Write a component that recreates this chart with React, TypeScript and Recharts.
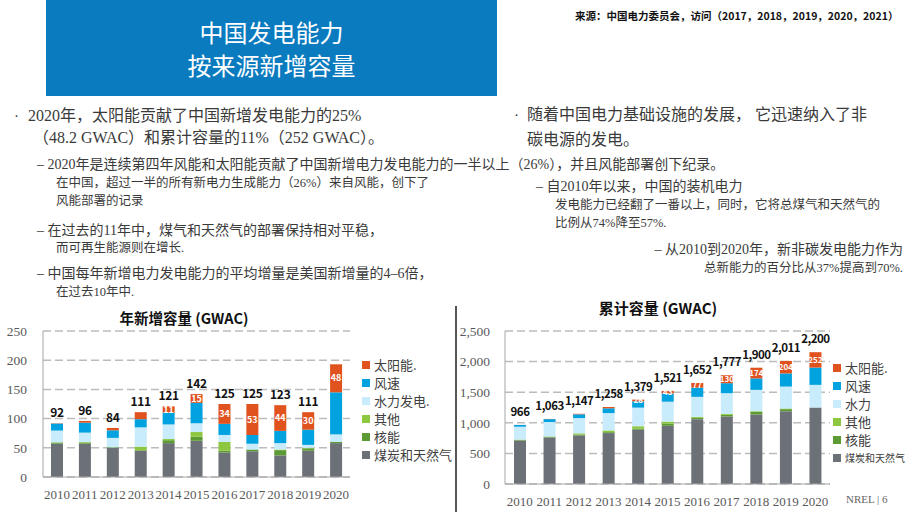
import React from 'react';
import { BarChart, Bar, XAxis, YAxis, CartesianGrid, Legend, LabelList } from 'recharts';

const years = ['2010', '2011', '2012', '2013', '2014', '2015', '2016', '2017', '2018', '2019', '2020'];

// Annual additions (GWAC)
const annualCoal = [57, 57, 50, 45, 58, 62, 42, 44, 37, 45, 58];
const annualNuclear = [2, 2, 1, 1, 5, 7, 3, 3, 9, 4, 2];
const annualOther = [0.5, 1, 0, 6, 2, 8, 15, 0, 1, 1, 0];
const annualHydro = [20, 16, 16, 33, 25, 15, 12, 10, 11, 5, 13];
const annualWind = [12, 17, 13, 14, 20, 35, 19, 15, 21, 26, 72];
const annualSolar = [0.5, 3, 4, 12, 11, 15, 34, 53, 44, 30, 48];
const annualTotals = ['92', '96', '84', '111', '121', '142', '125', '125', '123', '111', ''];
const annualSolarLabels = ['', '', '', '', '11', '15', '34', '53', '44', '30', '48'];

// Cumulative capacity (GWAC)
const cumCoal = [710, 760, 795, 832, 886, 951, 1060, 1103, 1136, 1190, 1250];
const cumNuclear = [11, 12, 13, 15, 20, 36, 22, 27, 43, 33, 0];
const cumOther = [5, 5, 20, 28, 38, 33, 16, 17, 11, 11, 0];
const cumHydro = [210, 236, 249, 284, 304, 325, 326, 337, 348, 358, 370];
const cumWind = [29, 47, 62, 78, 103, 133, 151, 163, 188, 215, 282];
const cumSolar = [1, 3, 8, 21, 28, 43, 77, 130, 174, 204, 252];
const cumTotals = ['966', '1,063', '1,147', '1,258', '1,379', '1,521', '1,652', '1,777', '1,900', '2,011', '2,200'];
const cumSolarLabels = ['', '', '', '', '28', '43', '77', '130', '174', '204', '252'];

const annualTicks = [0, 50, 100, 150, 200, 250];
const cumTicks = [0, 500, 1000, 1500, 2000, 2500];

const annualNames = ['煤炭和天然气', '核能', '其他', '水力发电.', '风速', '太阳能.'];
const cumNames = ['煤炭和天然气', '核能', '其他', '水力', '风速', '太阳能.'];

const COLORS = {
  coal: '#6c7178',
  nuclear: '#5c9a33',
  other: '#8dc63f',
  hydro: '#c8ecfb',
  wind: '#00a2e0',
  solar: '#e0531f',
};

const keys = ['coal', 'nuclear', 'other', 'hydro', 'wind', 'solar'] as const;

const annualData = years.map((y, i) => ({
  year: y,
  coal: annualCoal[i],
  nuclear: annualNuclear[i],
  other: annualOther[i],
  hydro: annualHydro[i],
  wind: annualWind[i],
  solar: annualSolar[i],
  total: annualTotals[i],
  solarLabel: annualSolarLabels[i],
}));

const cumData = years.map((y, i) => ({
  year: y,
  coal: cumCoal[i],
  nuclear: cumNuclear[i],
  other: cumOther[i],
  hydro: cumHydro[i],
  wind: cumWind[i],
  solar: cumSolar[i],
  total: cumTotals[i],
  solarLabel: cumSolarLabels[i],
}));

const SERIF = '"Liberation Serif", "Noto Sans CJK SC", serif';
const SANS = '"Noto Sans CJK SC", "Noto Sans", sans-serif';
const TEXT = '#3a3a3a';

const makeLegend = (names: string[], smallLast: boolean) => () => {
  const items = keys.map((k, i) => ({ value: names[i], color: COLORS[k] })).reverse();
  return (
    <div style={{ fontFamily: SANS, color: '#404040' }}>
      {items.map((it, idx) => (
        <div key={idx} style={{ display: 'flex', alignItems: 'center', height: 18 }}>
          <span style={{ display: 'inline-block', width: 8, height: 8, background: it.color, marginRight: 4, flex: 'none' }} />
          <span style={{ fontSize: smallLast && idx === items.length - 1 ? 10 : 13, whiteSpace: 'nowrap', lineHeight: '18px' }}>
            {it.value}
          </span>
        </div>
      ))}
    </div>
  );
};

const T = ({ x, y, size, children, right, bold, color, family }: any) => (
  <div
    style={{
      position: 'absolute',
      left: right === undefined ? x : undefined,
      right: right,
      top: y - 12,
      height: 24,
      lineHeight: '24px',
      fontSize: size,
      whiteSpace: 'nowrap',
      fontFamily: family || SERIF,
      color: color || TEXT,
      fontWeight: bold ? 700 : 400,
      textAlign: right === undefined ? 'left' : 'right',
    }}
  >
    {children}
  </div>
);

function renderBars(names: string[], totalSize: number, totalOffset: number, innerSize: number, spacing: number) {
  return keys.map((k, i) => (
    <Bar key={k} dataKey={k} name={names[i]} stackId="a" fill={COLORS[k]} barSize={12} isAnimationActive={false}>
      {k === 'solar' ? (
        <LabelList
          dataKey="total"
          position="top"
          offset={totalOffset}
          fill="#111"
          fontSize={totalSize}
          fontWeight={700}
          fontFamily={SANS}
          letterSpacing={spacing}
        />
      ) : null}
      {k === 'solar' ? (
        <LabelList dataKey="solarLabel" position="center" fill="#ffffff" fontSize={innerSize} fontWeight={700} fontFamily={SANS} />
      ) : null}
    </Bar>
  ));
}

export default function App() {
  return (
    <div style={{ position: 'absolute', left: 0, top: 0, width: 920, height: 518, overflow: 'hidden', background: '#fff' }}>
      {/* Header */}
      <div
        style={{
          position: 'absolute',
          left: 46,
          top: 0,
          width: 451,
          height: 96,
          background: '#0a7bbf',
          color: '#fff',
          fontFamily: SANS,
          fontSize: 24,
          textAlign: 'center',
        }}
      >
        <div style={{ position: 'absolute', left: 0, right: 0, top: 15, lineHeight: '34px' }}>中国发电能力</div>
        <div style={{ position: 'absolute', left: 0, right: 0, top: 48, lineHeight: '34px' }}>按来源新增容量</div>
      </div>
      <T x={575} y={16} size={10.5} bold family={SANS} color="#111">来源：中国电力委员会，访问（2017，2018，2019，2020，2021）</T>

      {/* Left text */}
      <T x={14} y={116} size={15}>·</T>
      <T x={28} y={116} size={16}>2020年，太阳能贡献了中国新增发电能力的25%</T>
      <T x={33} y={138} size={16}>（48.2 GWAC）和累计容量的11%（252 GWAC）。</T>
      <T x={37} y={165} size={14}>– 2020年是连续第四年风能和太阳能贡献了中国新增电力发电能力的一半以上（26%），并且风能部署创下纪录。</T>
      <T x={56} y={183} size={12.5}>在中国，超过一半的所有新电力生成能力（26%）来自风能，创下了</T>
      <T x={56} y={201} size={12.5}>风能部署的记录</T>
      <T x={37} y={231} size={14}>– 在过去的11年中，煤气和天然气的部署保持相对平稳，</T>
      <T x={56} y={248} size={12.5}>而可再生能源则在增长.</T>
      <T x={37} y={274} size={14}>– 中国每年新增电力发电能力的平均增量是美国新增量的4–6倍，</T>
      <T x={56} y={292} size={12.5}>在过去10年中.</T>

      {/* Right text */}
      <T x={514} y={115} size={15}>·</T>
      <T x={527} y={115} size={16}>随着中国电力基础设施的发展， 它迅速纳入了非</T>
      <T x={527} y={140} size={16}>碳电源的发电。</T>
      <T x={536} y={187} size={14}>– 自2010年以来，中国的装机电力</T>
      <T x={555} y={205} size={12.5}>发电能力已经翻了一番以上，同时，它将总煤气和天然气的</T>
      <T x={555} y={223} size={12.5}>比例从74%降至57%.</T>
      <T right={17} y={250} size={14}>– 从2010到2020年，新非碳发电能力作为</T>
      <T right={17} y={268} size={12.5}>总新能力的百分比从37%提高到70%.</T>

      {/* Divider */}
      <div style={{ position: 'absolute', left: 455, top: 306, width: 2, height: 206, background: '#555' }} />

      {/* Chart titles */}
      <div style={{ position: 'absolute', left: 84, width: 200, top: 306, textAlign: 'center', fontFamily: SANS, fontWeight: 700, fontSize: 14.5, color: '#111', lineHeight: '24px' }}>
        年新增容量 (GWAC)
      </div>
      <div style={{ position: 'absolute', left: 558, width: 200, top: 296, textAlign: 'center', fontFamily: SANS, fontWeight: 700, fontSize: 15, color: '#111', lineHeight: '24px' }}>
        累计容量 (GWAC)
      </div>

      {/* Left chart */}
      <div style={{ position: 'absolute', left: 0, top: 300 }}>
        <BarChart width={460} height={218} data={annualData} margin={{ top: 31, right: 12, left: 8, bottom: 11 }}>
          <CartesianGrid vertical={false} stroke="#bcbcbc" strokeDasharray="8 4" strokeWidth={1.5} />
          <XAxis
            dataKey="year"
            interval={0}
            height={30}
            tickLine={false}
            tickMargin={7}
            axisLine={{ stroke: '#a6a6a6' }}
            tick={{ fontSize: 13, fill: '#595959', fontFamily: SERIF }}
          />
          <YAxis
            domain={[0, 250]}
            ticks={annualTicks}
            width={35}
            tickLine={false}
            tickMargin={10}
            axisLine={{ stroke: '#a6a6a6' }}
            tick={{ fontSize: 13.5, fill: '#595959', fontFamily: SERIF }}
          />
          <Legend
            layout="vertical"
            align="right"
            verticalAlign="top"
            content={makeLegend(annualNames, false)}
            wrapperStyle={{ left: 362, top: 56, right: 'auto', width: 98 }}
          />
          {renderBars(annualNames, 12, 6, 9, -0.3)}
        </BarChart>
      </div>

      {/* Right chart */}
      <div style={{ position: 'absolute', left: 460, top: 290 }}>
        <BarChart width={460} height={228} data={cumData} margin={{ top: 41, right: 5, left: 7, bottom: 10 }}>
          <CartesianGrid vertical={false} stroke="#bcbcbc" strokeDasharray="8 4" strokeWidth={1.5} />
          <XAxis
            dataKey="year"
            interval={0}
            height={24}
            tickLine={false}
            tickMargin={7}
            axisLine={{ stroke: '#a6a6a6' }}
            tick={{ fontSize: 13, fill: '#595959', fontFamily: SERIF }}
          />
          <YAxis
            domain={[0, 2500]}
            ticks={cumTicks}
            width={38}
            tickLine={false}
            tickMargin={9}
            tickFormatter={(v: number) => v.toLocaleString('en-US')}
            axisLine={{ stroke: '#a6a6a6' }}
            tick={{ fontSize: 13.5, fill: '#595959', fontFamily: SERIF }}
          />
          <Legend
            layout="vertical"
            align="right"
            verticalAlign="top"
            content={makeLegend(cumNames, true)}
            wrapperStyle={{ left: 373, top: 69, right: 'auto', width: 85 }}
          />
          {renderBars(cumNames, 11.5, 9, 8, -0.5)}
        </BarChart>
      </div>

      <T x={846} y={499} size={11} color="#666">NREL | 6</T>
    </div>
  );
}
